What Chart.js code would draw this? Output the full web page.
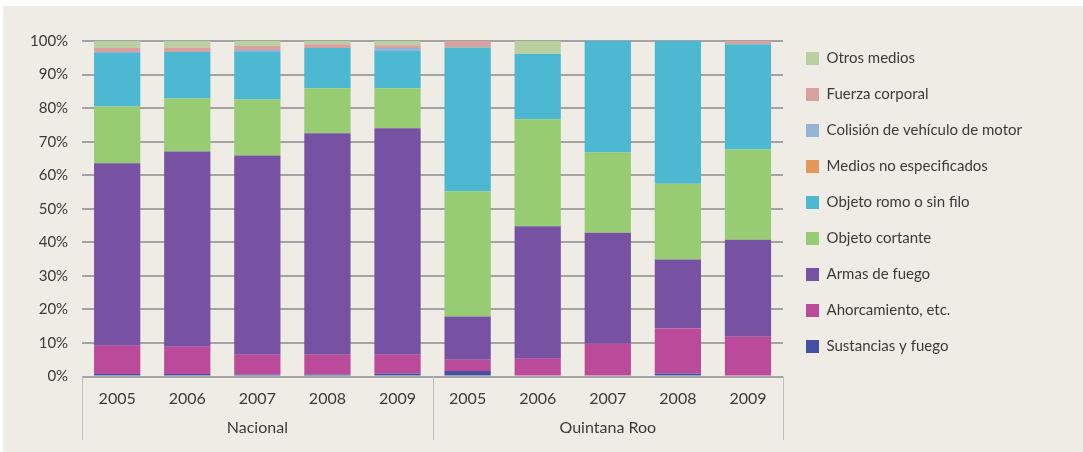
<!DOCTYPE html>
<html><head><meta charset="utf-8">
<script src="https://cdn.jsdelivr.net/npm/chart.js@4"></script>
<style>html,body{margin:0;padding:0;background:#fff;}#wrap{position:absolute;left:0;top:0;width:1083px;height:452px;}</style>
</head><body><div id="wrap"><canvas id="c" width="1083" height="452"></canvas></div>
<script>
const years = ['2005','2006','2007','2008','2009','2005','2006','2007','2008','2009'];
const groups = ['Nacional','Quintana Roo'];
const yTicks = [0,10,20,30,40,50,60,70,80,90,100];

const sustancias   = [0.8, 0.8, 0.6, 0.6, 0.9,  1.7, 0.0, 0.0, 0.9, 0.0];
const ahorcamiento = [8.4, 8.1, 5.9, 5.9, 5.6,  3.3, 5.3, 9.8, 13.4, 11.9];
const armas        = [54.4, 58.2, 59.4, 66.0, 67.5,  12.9, 39.5, 33.1, 20.6, 28.9];
const cortante     = [16.9, 15.8, 16.7, 13.4, 11.9,  37.3, 31.9, 23.9, 22.6, 26.9];
const romo         = [15.9, 13.8, 14.1, 12.0, 11.1,  42.9, 19.4, 33.2, 42.5, 31.3];
const noEspecif    = [0.0, 0.0, 0.0, 0.0, 0.0,  0.0, 0.0, 0.0, 0.0, 0.0];
const colision     = [0.3, 0.0, 0.6, 0.0, 0.9,  0.0, 0.0, 0.0, 0.0, 0.0];
const fuerza       = [1.2, 1.4, 1.2, 1.1, 0.8,  1.9, 0.0, 0.0, 0.0, 1.0];
const otros        = [2.1, 1.9, 1.5, 1.0, 1.3,  0.0, 3.9, 0.0, 0.0, 0.0];

const FONT = 'Lato, "DejaVu Sans", sans-serif';
const TXT = '#3a3a3a';

const bgPlugin = {
  id: 'bg',
  beforeDraw(chart) {
    const ctx = chart.ctx;
    ctx.save();
    ctx.fillStyle = '#ffffff';
    ctx.fillRect(0, 0, chart.width, chart.height);
    ctx.fillStyle = '#EFECE5';
    ctx.fillRect(3, 6, chart.width - 3, chart.height - 6);
    ctx.restore();
  }
};
const sepPlugin = {
  id: 'sep',
  afterDraw(chart) {
    const x = chart.scales.x, ca = chart.chartArea;
    const mid = (x.getPixelForValue(4) + x.getPixelForValue(5)) / 2;
    const bottom = chart.height - 12;
    const ctx = chart.ctx;
    ctx.save();
    ctx.strokeStyle = '#BDBDBD';
    ctx.lineWidth = 1;
    [ca.left, mid, ca.right].forEach(px => {
      const p = Math.round(px) + 0.5;
      ctx.beginPath(); ctx.moveTo(p, ca.bottom); ctx.lineTo(p, bottom); ctx.stroke();
    });
    ctx.restore();
  }
};

const mk = (label, data, color) => ({ label, data, backgroundColor: color, borderWidth: 0,
  categoryPercentage: 1.0, barPercentage: 0.66 });

new Chart(document.getElementById('c'), {
  type: 'bar',
  data: {
    labels: years,
    datasets: [
      mk('Sustancias y fuego', sustancias, '#4650A2'),
      mk('Ahorcamiento, etc.', ahorcamiento, '#BB4A9A'),
      mk('Armas de fuego', armas, '#7752A2'),
      mk('Objeto cortante', cortante, '#97CC72'),
      mk('Objeto romo o sin filo', romo, '#4CB8D1'),
      mk('Medios no especificados', noEspecif, '#E5975A'),
      mk('Colisión de vehículo de motor', colision, '#95B3D7'),
      mk('Fuerza corporal', fuerza, '#D9A0A0'),
      mk('Otros medios', otros, '#B9D1A1')
    ]
  },
  options: {
    responsive: false,
    devicePixelRatio: 1,
    animation: false,
    layout: { padding: { top: 30, left: 16, right: 51, bottom: 19 } },
    plugins: {
      tooltip: { enabled: false },
      legend: {
        position: 'right',
        align: 'start',
        reverse: true,
        maxWidth: 300,
        labels: { boxWidth: 13, boxHeight: 13, padding: 21, color: TXT, font: { family: FONT, size: 15 } }
      }
    },
    scales: {
      x: {
        stacked: true,
        weight: 0,
        grid: { display: false },
        border: { display: false },
        ticks: { color: TXT, font: { family: FONT, size: 16 }, padding: 5, maxRotation: 0, autoSkip: false }
      },
      x2: {
        type: 'category',
        labels: groups,
        position: 'bottom',
        offset: true,
        weight: 1,
        grid: { display: false },
        border: { display: false },
        ticks: { color: TXT, font: { family: FONT, size: 16 }, padding: -4, maxRotation: 0 }
      },
      xTop: {
        type: 'linear',
        position: 'top',
        display: true,
        grid: { display: false },
        border: { display: false },
        ticks: { display: false },
        afterFit(s) { s.height = 11; }
      },
      y: {
        stacked: true,
        min: 0, max: 100,
        afterBuildTicks(s) { s.ticks = yTicks.map(v => ({ value: v })); },
        grid: { color: '#A3A3A3', lineWidth: 2, drawTicks: false },
        border: { display: false },
        ticks: { color: TXT, font: { family: FONT, size: 15 }, padding: 14, callback: v => v + '%' }
      },
      yR: {
        position: 'right',
        display: true,
        grid: { display: false },
        border: { display: false },
        ticks: { display: false },
        afterFit(s) { s.width = 2; }
      }
    }
  },
  plugins: [bgPlugin, sepPlugin]
});
</script></body></html>
